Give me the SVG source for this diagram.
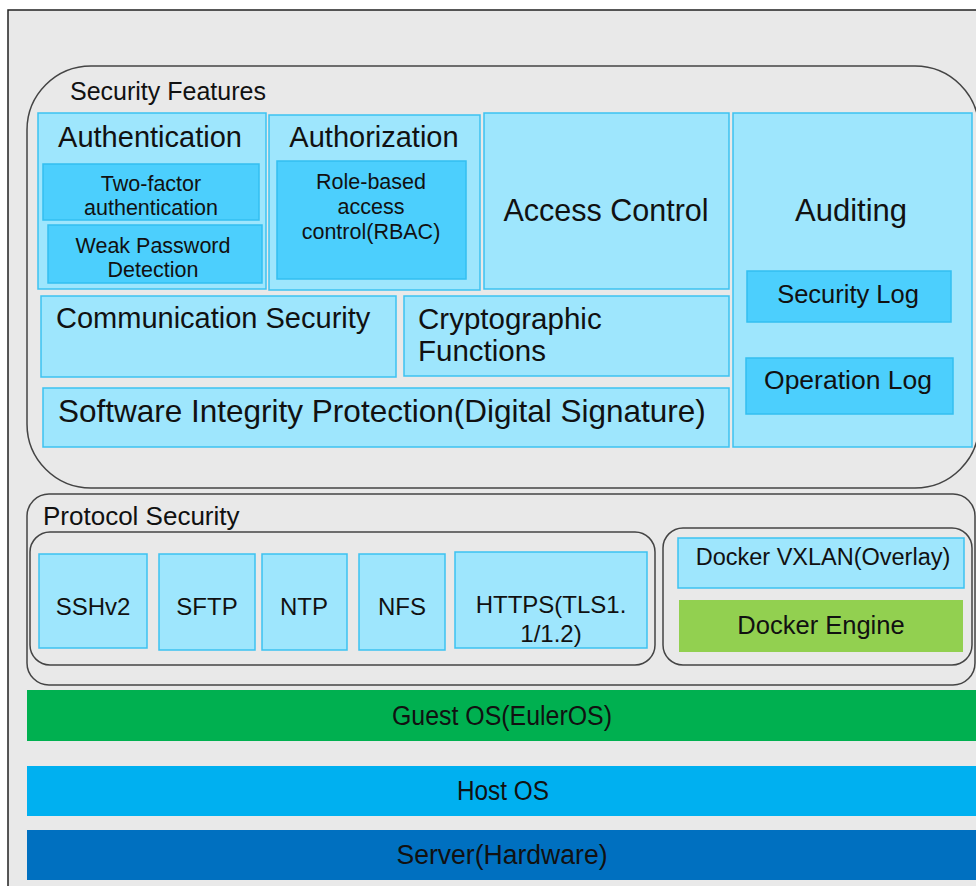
<svg xmlns="http://www.w3.org/2000/svg" width="976" height="886" viewBox="0 0 976 886">
<style>
text{font-family:"Liberation Sans",Arial,sans-serif;fill:#111;}
.c{text-anchor:middle;}
.grp{fill:none;stroke:#444;stroke-width:1.5;}
.lb{fill:#9ee6fd;stroke:#3cc2f1;stroke-width:1.5;}
.db{fill:#4ccffd;stroke:#33bff0;stroke-width:1.5;}
</style>
<rect x="0" y="0" width="976" height="886" fill="#ffffff"/>
<rect x="8" y="10" width="1000" height="900" fill="#e9e9e9" stroke="#222" stroke-width="1.5"/>

<g id="security-features">
<rect class="grp" x="27" y="66" width="952" height="422" rx="64" ry="64"/>
<text x="70" y="100" font-size="25">Security Features</text>
</g>

<g id="authentication">
<rect class="lb" x="38" y="113" width="228" height="176"/>
<text class="c" x="150" y="147" font-size="29">Authentication</text>
</g>
<g id="two-factor">
<rect class="db" x="43" y="164" width="216" height="56"/>
<text class="c" x="151" y="191" font-size="21.5">Two-factor</text>
<text class="c" x="151" y="215" font-size="21.5">authentication</text>
</g>
<g id="weak-password">
<rect class="db" x="48" y="225" width="214" height="58"/>
<text class="c" x="153" y="253" font-size="21.5">Weak Password</text>
<text class="c" x="153" y="277" font-size="21.5">Detection</text>
</g>

<g id="authorization">
<rect class="lb" x="269" y="115" width="211" height="175"/>
<text class="c" x="374" y="147" font-size="29">Authorization</text>
</g>
<g id="rbac">
<rect class="db" x="277" y="161" width="189" height="118"/>
<text class="c" x="371" y="189" font-size="21.5">Role-based</text>
<text class="c" x="371" y="214" font-size="21.5">access</text>
<text class="c" x="371" y="239" font-size="21.5">control(RBAC)</text>
</g>

<g id="access-control">
<rect class="lb" x="484" y="113" width="245" height="176"/>
<text class="c" x="606" y="221" font-size="30.5">Access Control</text>
</g>

<g id="auditing">
<rect class="lb" x="733" y="113" width="239" height="334"/>
<text class="c" x="851" y="221" font-size="31">Auditing</text>
</g>
<g id="security-log">
<rect class="db" x="747" y="271" width="204" height="51"/>
<text class="c" x="848" y="303" font-size="25.5">Security Log</text>
</g>
<g id="operation-log">
<rect class="db" x="746" y="358" width="207" height="56"/>
<text class="c" x="848" y="389" font-size="26.5">Operation Log</text>
</g>

<g id="communication-security">
<rect class="lb" x="41" y="296" width="355" height="81"/>
<text x="56" y="328" font-size="29">Communication Security</text>
</g>
<g id="cryptographic-functions">
<rect class="lb" x="404" y="296" width="325" height="80"/>
<text x="418" y="329" font-size="29.5">Cryptographic</text>
<text x="418" y="361" font-size="29.5">Functions</text>
</g>
<g id="software-integrity">
<rect class="lb" x="43" y="388" width="686" height="59"/>
<text x="58" y="422" font-size="31.5">Software Integrity Protection(Digital Signature)</text>
</g>

<g id="protocol-security">
<rect class="grp" x="27" y="494" width="948" height="191" rx="22" ry="22"/>
<text x="43" y="525" font-size="26">Protocol Security</text>
<rect class="grp" x="30" y="532" width="625" height="133" rx="20" ry="20"/>
<rect class="grp" x="663" y="528" width="309" height="137" rx="20" ry="20"/>
</g>

<g id="sshv2">
<rect class="lb" x="39" y="554" width="108" height="94"/>
<text class="c" x="93" y="615" font-size="24">SSHv2</text>
</g>
<g id="sftp">
<rect class="lb" x="159" y="554" width="96" height="96"/>
<text class="c" x="207" y="615" font-size="24">SFTP</text>
</g>
<g id="ntp">
<rect class="lb" x="262" y="554" width="85" height="96"/>
<text class="c" x="304" y="615" font-size="24">NTP</text>
</g>
<g id="nfs">
<rect class="lb" x="359" y="554" width="86" height="96"/>
<text class="c" x="402" y="615" font-size="24">NFS</text>
</g>
<g id="https">
<rect class="lb" x="455" y="552" width="192" height="96"/>
<text class="c" x="551" y="613" font-size="24">HTTPS(TLS1.</text>
<text class="c" x="551" y="642" font-size="24">1/1.2)</text>
</g>
<g id="docker-vxlan">
<rect class="lb" x="678" y="538" width="286" height="50"/>
<text class="c" x="823" y="565" font-size="23.5">Docker VXLAN(Overlay)</text>
</g>
<g id="docker-engine">
<rect x="679" y="600" width="284" height="52" fill="#92d050"/>
<text class="c" x="821" y="634" font-size="25.5">Docker Engine</text>
</g>

<g id="guest-os">
<rect x="27" y="690" width="960" height="51" fill="#00b050"/>
<text class="c" x="502" y="725" font-size="27" textLength="220" lengthAdjust="spacingAndGlyphs">Guest OS(EulerOS)</text>
</g>
<g id="host-os">
<rect x="27" y="766" width="960" height="50" fill="#00b0f0"/>
<text class="c" x="503" y="800" font-size="27" textLength="92" lengthAdjust="spacingAndGlyphs">Host OS</text>
</g>
<g id="server">
<rect x="27" y="830" width="960" height="50" fill="#0070c0"/>
<text class="c" x="502" y="864" font-size="27" textLength="211" lengthAdjust="spacingAndGlyphs">Server(Hardware)</text>
</g>

<g id="connectors"></g>
</svg>
